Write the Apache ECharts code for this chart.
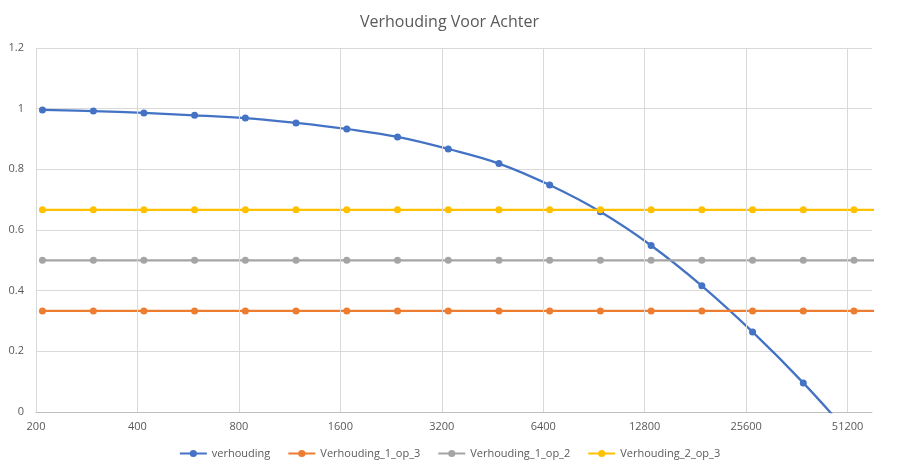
<!DOCTYPE html>
<html>
<head>
<meta charset="utf-8">
<script src="https://cdn.jsdelivr.net/npm/echarts@6/dist/echarts.min.js"></script>
<style>
html,body{margin:0;padding:0;background:#fff;}
#chart{width:899px;height:473px;}
</style>
</head>
<body>
<div id="chart"></div>
<script>
var xValues = [209, 296, 418, 591, 836, 1182, 1672, 2365, 3344, 4729, 6688, 9458, 13376, 18916, 26752, 37833, 53504, 75667];
var verhouding = [0.996, 0.992, 0.986, 0.978, 0.969, 0.953, 0.933, 0.907, 0.867, 0.819, 0.748, 0.660, 0.549, 0.416, 0.264, 0.096, -0.09];
var verhouding_1_op_3 = [0.3333, 0.3333, 0.3333, 0.3333, 0.3333, 0.3333, 0.3333, 0.3333, 0.3333, 0.3333, 0.3333, 0.3333, 0.3333, 0.3333, 0.3333, 0.3333, 0.3333, 0.3333];
var verhouding_1_op_2 = [0.5, 0.5, 0.5, 0.5, 0.5, 0.5, 0.5, 0.5, 0.5, 0.5, 0.5, 0.5, 0.5, 0.5, 0.5, 0.5, 0.5, 0.5];
var verhouding_2_op_3 = [0.6667, 0.6667, 0.6667, 0.6667, 0.6667, 0.6667, 0.6667, 0.6667, 0.6667, 0.6667, 0.6667, 0.6667, 0.6667, 0.6667, 0.6667, 0.6667, 0.6667, 0.6667];
var xTickLabels = [200, 400, 800, 1600, 3200, 6400, 12800, 25600, 51200];
var seriesNames = ['verhouding', 'Verhouding_1_op_3', 'Verhouding_1_op_2', 'Verhouding_2_op_3'];
var xBase = 200;
var xMax = 60500;

function lg(v) { return Math.log(v / xBase) / Math.LN2; }
function pairs(ys) { return ys.map(function (y, i) { return [lg(xValues[i]), y]; }); }
var tickPos = xTickLabels.map(lg);

var colors = ['#4472C4', '#ED7D31', '#A5A5A5', '#FFC000'];
var allData = [verhouding, verhouding_1_op_3, verhouding_1_op_2, verhouding_2_op_3];
var font = '"Open Sans", "Liberation Sans", sans-serif';

var series = allData.map(function (d, i) {
  return {
    name: seriesNames[i],
    type: 'line',
    data: pairs(d),
    smooth: i === 0 ? 0.4 : false,
    clip: true,
    z: 3,
    symbol: 'circle',
    symbolSize: 7,
    lineStyle: { width: 2.25, color: colors[i] },
    itemStyle: { color: colors[i] }
  };
});
// vertical gridlines at the labelled x values (under the data series)
series.push({
  name: 'grid-x',
  type: 'line',
  data: [],
  z: 1,
  silent: true,
  markLine: {
    silent: true,
    symbol: ['none', 'none'],
    label: { show: false },
    lineStyle: { color: '#D9D9D9', width: 1, type: 'solid' },
    emphasis: { disabled: true },
    animation: false,
    data: tickPos.map(function (p) { return { xAxis: p }; })
  }
});

var chart = echarts.init(document.getElementById('chart'));
chart.setOption({
  animation: false,
  color: colors,
  title: {
    text: 'Verhouding Voor Achter',
    left: 'center',
    top: 9,
    textStyle: { fontFamily: font, fontSize: 16, fontWeight: 'normal', color: '#595959' }
  },
  legend: {
    bottom: 9,
    left: 'center',
    itemWidth: 27,
    itemHeight: 9,
    itemGap: 17,
    textStyle: { fontFamily: font, fontSize: 11, color: '#595959' },
    data: seriesNames
  },
  grid: { left: 36, right: 27, top: 48, bottom: 61, containLabel: false },
  xAxis: {
    type: 'value',
    min: 0,
    max: lg(xMax),
    axisLine: { show: true, lineStyle: { color: '#BFBFBF', width: 1 } },
    axisTick: { show: false, customValues: tickPos },
    axisLabel: {
      customValues: tickPos,
      color: '#595959', fontFamily: font, fontSize: 11, margin: 9,
      formatter: function (v) { return String(Math.round(xBase * Math.pow(2, v))); }
    },
    splitLine: { show: false }
  },
  yAxis: {
    type: 'value',
    min: 0,
    max: 1.2,
    interval: 0.2,
    axisLine: { show: false },
    axisTick: { show: false },
    axisLabel: {
      color: '#595959', fontFamily: font, fontSize: 11, margin: 12,
      formatter: function (v) { return String(Math.round(v * 10) / 10); }
    },
    splitLine: { show: true, lineStyle: { color: '#D9D9D9', width: 1 } }
  },
  series: series
});
</script>
</body>
</html>
